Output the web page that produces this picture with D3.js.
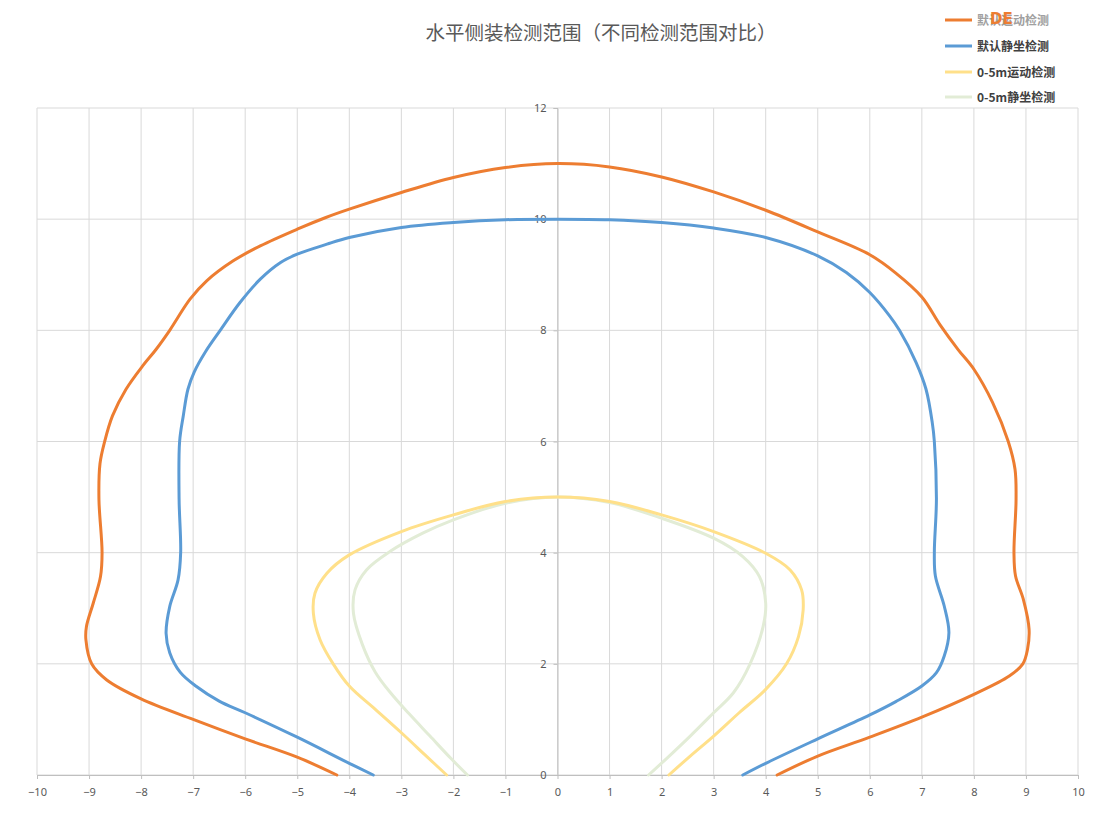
<!DOCTYPE html>
<html><head><meta charset="utf-8">
<script src="https://cdn.jsdelivr.net/npm/d3@7"></script>
<style>body{margin:0;background:#fff;}svg{display:block;font-family:"Noto Sans CJK SC","Noto Sans",sans-serif;}</style>
</head><body>
<svg id="chart" width="1098" height="821"></svg>
<script>
const title = "水平侧装检测范围（不同检测范围对比）";
const seriesNames = ["默认运动检测", "默认静坐检测", "0-5m运动检测", "0-5m静坐检测"];
const seriesColors = ["#ED7D31", "#5B9BD5", "#FFE08A", "#E2ECD6"];
const xTicks = d3.range(-10, 11, 1);
const yTicks = [0, 2, 4, 6, 8, 10, 12];

const motionDefaultX = [-4.24,-5.0,-6.0,-7.0,-8.0,-8.66,-8.95,-9.06,-9.05,-8.92,-8.78,-8.75,-8.81,-8.79,-8.70,-8.55,-8.29,-7.97,-7.71,-7.45,-7.06,-6.74,-6.23,-5.71,-5.0,-4.45,-4.0,-3.0,-2.0,-1.0,0,1,2,3,4,5,6,6.5,7.0,7.35,7.7,8.0,8.36,8.66,8.79,8.81,8.77,8.80,8.95,9.06,9.03,8.94,8.68,8.0,7.0,6.0,5.0,4.22];
const motionDefaultY = [0,0.32,0.65,1.0,1.37,1.71,2.0,2.43,2.67,3.09,3.57,4.0,4.96,5.6,6.0,6.46,6.94,7.36,7.66,8.0,8.56,8.89,9.25,9.52,9.82,10.03,10.18,10.48,10.75,10.93,11.0,10.94,10.76,10.49,10.16,9.77,9.36,9.03,8.6,8.1,7.65,7.30,6.70,6.0,5.50,4.96,4.0,3.58,3.16,2.62,2.26,2.0,1.78,1.45,1.04,0.68,0.34,0];

const staticDefaultX = [-3.54,-4.0,-5.0,-6.0,-6.5,-6.95,-7.25,-7.45,-7.52,-7.45,-7.29,-7.24,-7.27,-7.26,-7.19,-7.10,-6.98,-6.76,-6.48,-6.10,-5.71,-5.32,-5.0,-4.43,-4.0,-3.0,-2.0,-1.0,0,1,2,3,4,5,5.55,6.0,6.38,6.57,6.89,7.08,7.20,7.24,7.28,7.24,7.26,7.43,7.52,7.43,7.28,7.0,6.5,6.0,5.0,4.0,3.56];
const staticDefaultY = [0,0.21,0.68,1.12,1.33,1.6,1.85,2.2,2.55,3.03,3.51,4.0,4.96,6.0,6.46,6.94,7.25,7.62,8.0,8.5,8.92,9.22,9.37,9.55,9.67,9.85,9.94,9.99,10.0,9.99,9.94,9.84,9.67,9.34,9.04,8.68,8.26,8.0,7.42,6.94,6.34,6.0,4.96,4.0,3.58,3.04,2.56,2.14,1.84,1.60,1.32,1.08,0.65,0.21,0];

const motion5mX = [-2.13,-2.52,-3.0,-3.5,-4.0,-4.31,-4.56,-4.69,-4.66,-4.43,-4.0,-3.0,-2.0,-1.0,0,1,2,3,4,4.47,4.69,4.72,4.63,4.40,4.0,3.49,3.0,2.55,2.14];
const motion5mY = [0,0.34,0.76,1.18,1.60,2.0,2.43,2.91,3.27,3.63,3.96,4.38,4.68,4.92,5.0,4.92,4.68,4.38,3.99,3.69,3.33,2.97,2.49,2.0,1.54,1.12,0.70,0.34,0];

const static5mX = [-1.73,-2.05,-2.45,-2.85,-3.2,-3.5,-3.75,-3.92,-3.89,-3.67,-3.22,-2.59,-2.0,-1.0,0,1,2,3,3.56,3.88,4.0,3.95,3.70,3.38,3.0,2.55,2.1,1.75];
const static5mY = [0,0.3,0.7,1.1,1.47,1.85,2.35,2.91,3.33,3.69,4.02,4.35,4.59,4.89,5.0,4.90,4.62,4.26,3.93,3.57,3.09,2.67,2.0,1.48,1.12,0.70,0.3,0];

const seriesData = [
  d3.zip(motionDefaultX, motionDefaultY),
  d3.zip(staticDefaultX, staticDefaultY),
  d3.zip(motion5mX, motion5mY),
  d3.zip(static5mX, static5mY)
];

const svg = d3.select("#chart");
const x = d3.scaleLinear().domain([-10, 10]).range([37, 1078]);
const y = d3.scaleLinear().domain([0, 12]).range([775, 108]);
const labelColor = "#595959";
const gridColor = "#d9d9d9";

// grid
svg.append("g").selectAll("line").data(xTicks).join("line")
  .attr("x1", d => x(d)).attr("x2", d => x(d)).attr("y1", y(0)).attr("y2", y(12))
  .attr("stroke", gridColor).attr("stroke-width", 1);
svg.append("g").selectAll("line").data(yTicks).join("line")
  .attr("x1", x(-10)).attr("x2", x(10)).attr("y1", d => y(d)).attr("y2", d => y(d))
  .attr("stroke", gridColor).attr("stroke-width", 1);

// x axis at y=0
const xAxis = svg.append("g").attr("transform", `translate(0,${y(0)})`)
  .call(d3.axisBottom(x).tickValues(xTicks).tickSize(4).tickPadding(9).tickFormat(d3.format("d")));
xAxis.select(".domain").attr("stroke", "#bfbfbf");
xAxis.selectAll(".tick line").attr("stroke", "#bfbfbf");
xAxis.selectAll("text").attr("fill", labelColor).attr("font-size", 11).attr("font-family", "'Noto Sans', sans-serif");

// y axis at x=0
const yAxis = svg.append("g").attr("transform", `translate(${x(0)},0)`)
  .call(d3.axisLeft(y).tickValues(yTicks).tickSize(4).tickPadding(7).tickFormat(d3.format("d")));
yAxis.select(".domain").attr("stroke", "#bfbfbf");
yAxis.selectAll(".tick line").attr("stroke", "#bfbfbf");
yAxis.selectAll("text").attr("fill", labelColor).attr("font-size", 11).attr("font-family", "'Noto Sans', sans-serif");

// lines
const line = d3.line().x(d => x(d[0])).y(d => y(d[1])).curve(d3.curveCatmullRom.alpha(0.5));
[3, 2, 1, 0].forEach(i => {
  svg.append("path").datum(seriesData[i]).attr("d", line)
    .attr("fill", "none").attr("stroke", seriesColors[i]).attr("stroke-width", 3)
    .attr("stroke-linejoin", "round").attr("stroke-linecap", "round");
});

// title
svg.append("text").attr("x", 601).attr("y", 40).attr("text-anchor", "middle")
  .attr("font-size", 19.5).attr("fill", labelColor).text(title);

// legend
const legendY = [20, 46, 72, 97];
const lg = svg.append("g");
seriesNames.forEach((name, i) => {
  lg.append("line").attr("x1", 945).attr("x2", 972).attr("y1", legendY[i]).attr("y2", legendY[i])
    .attr("stroke", seriesColors[i]).attr("stroke-width", 3);
  lg.append("text").attr("x", 977).attr("y", legendY[i] + 4.5)
    .attr("font-size", 12).attr("font-weight", "bold")
    .attr("fill", i === 0 ? "#a0a0a0" : "#404040").text(name);
});
// watermark letters over the first legend item (as in the reference image)
svg.append("text").attr("x", 990).attr("y", 24).attr("font-size", 15).attr("font-weight", "bold")
  .attr("font-family", "'DejaVu Sans', sans-serif").attr("fill", "#ED7D31").text("DE");
</script>
</body></html>
